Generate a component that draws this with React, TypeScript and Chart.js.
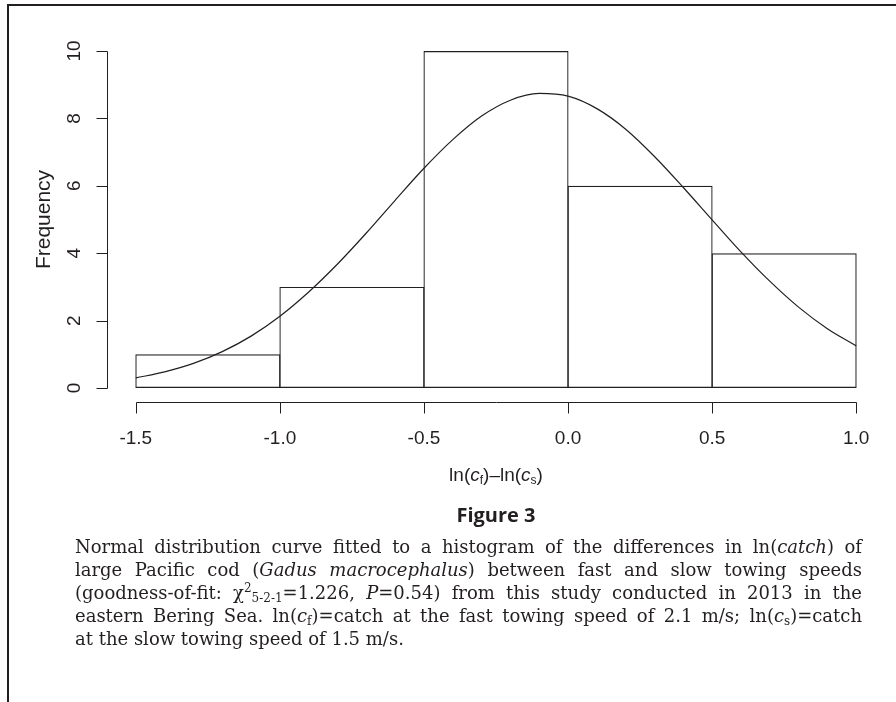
import React, { useEffect, useRef } from "react";
import { Chart, registerables } from "chart.js";

Chart.register(...registerables);

// Histogram bins (edges) and counts
const binEdges = [-1.5, -1.0, -0.5, 0.0, 0.5, 1.0];
const counts = [1, 3, 10, 6, 4];

// Fitted normal curve
const curveX = [-1.5, -1.4, -1.3, -1.2, -1.1, -1.0, -0.9, -0.8, -0.7, -0.6, -0.5, -0.4, -0.3, -0.2, -0.1, 0.0, 0.1, 0.2, 0.3, 0.4, 0.5, 0.6, 0.7, 0.8, 0.9, 1.0];
const curveY = [0.30, 0.48, 0.73, 1.08, 1.54, 2.13, 2.85, 3.68, 4.60, 5.57, 6.52, 7.37, 8.07, 8.54, 8.74, 8.66, 8.29, 7.68, 6.87, 5.95, 4.99, 4.04, 3.17, 2.40, 1.76, 1.25];

// Axis ticks
const xTicks = [-1.5, -1.0, -0.5, 0.0, 0.5, 1.0];
const xTickLabels = ["-1.5", "-1.0", "-0.5", "0.0", "0.5", "1.0"];
const yTicks = [0, 2, 4, 6, 8, 10];
const yTickLabels = ["0", "2", "4", "6", "8", "10"];

const INK = "#231f20";

const rAxesPlugin = {
  id: "rAxes",
  afterDraw(chart: any) {
    const { ctx, chartArea, scales } = chart;
    const xs = scales.x;
    const ys = scales.y;
    ctx.save();
    ctx.strokeStyle = INK;
    ctx.fillStyle = INK;
    ctx.lineWidth = 1;
    const tick = 11;
    // y axis
    const ax = Math.round(chartArea.left) + 0.5;
    const y0 = ys.getPixelForValue(yTicks[0]);
    const y1 = ys.getPixelForValue(yTicks[yTicks.length - 1]);
    ctx.beginPath();
    ctx.moveTo(ax, Math.round(y0) + 0.5);
    ctx.lineTo(ax, Math.round(y1) + 0.5);
    yTicks.forEach((v) => {
      const py = Math.round(ys.getPixelForValue(v)) + 0.5;
      ctx.moveTo(ax - tick, py);
      ctx.lineTo(ax, py);
    });
    ctx.stroke();
    ctx.font = '19px "Liberation Sans", Arial, sans-serif';
    ctx.textAlign = "center";
    ctx.textBaseline = "alphabetic";
    yTicks.forEach((v, i) => {
      const py = ys.getPixelForValue(v);
      ctx.save();
      ctx.translate(ax - 28, py);
      ctx.rotate(-Math.PI / 2);
      ctx.fillText(yTickLabels[i], 0, 0);
      ctx.restore();
    });
    // y title
    ctx.save();
    ctx.font = '21px "Liberation Sans", Arial, sans-serif';
    ctx.translate(ax - 58, (y0 + y1) / 2);
    ctx.rotate(-Math.PI / 2);
    ctx.fillText("Frequency", 0, 0);
    ctx.restore();

    // x axis
    const ay = Math.round(chartArea.bottom) + 0.5;
    const x0 = xs.getPixelForValue(xTicks[0]);
    const x1 = xs.getPixelForValue(xTicks[xTicks.length - 1]);
    ctx.beginPath();
    ctx.moveTo(Math.round(x0) + 0.5, ay);
    ctx.lineTo(Math.round(x1) + 0.5, ay);
    xTicks.forEach((v) => {
      const px = Math.round(xs.getPixelForValue(v)) + 0.5;
      ctx.moveTo(px, ay);
      ctx.lineTo(px, ay + tick);
    });
    ctx.stroke();
    ctx.font = '19px "Liberation Sans", Arial, sans-serif';
    ctx.textBaseline = "middle";
    xTicks.forEach((v, i) => {
      ctx.fillText(xTickLabels[i], xs.getPixelForValue(v), ay + 36);
    });
    ctx.restore();
  },
};

export default function App() {
  const ref = useRef<HTMLCanvasElement | null>(null);

  useEffect(() => {
    if (!ref.current) return;
    const centers = counts.map((_, i) => (binEdges[i] + binEdges[i + 1]) / 2);
    const chart = new Chart(ref.current, {
      type: "bar",
      data: {
        datasets: [
          {
            type: "bar",
            data: centers.map((c, i) => ({ x: c, y: counts[i] })),
            backgroundColor: "rgba(0,0,0,0)",
            borderColor: INK,
            borderWidth: 1.2,
            borderSkipped: false,
            barPercentage: 1.007,
            categoryPercentage: 1,
            inflateAmount: 0,
          } as any,
          {
            type: "line",
            data: curveX.map((x, i) => ({ x, y: curveY[i] })),
            borderColor: INK,
            borderWidth: 1.2,
            pointRadius: 0,
            fill: false,
            cubicInterpolationMode: "monotone",
          } as any,
        ],
      },
      options: {
        responsive: false,
        animation: false,
        devicePixelRatio: 1,
        layout: { padding: { left: 107, top: 37.5, right: 11, bottom: 702 - 401.5 } },
        plugins: { legend: { display: false }, tooltip: { enabled: false } },
        scales: {
          x: { type: "linear", min: -1.6, max: 1.1, offset: false, display: false },
          y: { type: "linear", min: -0.4, max: 10.4, display: false },
        },
      },
      plugins: [rAxesPlugin],
    });
    return () => chart.destroy();
  }, []);

  const serif = '"DejaVu Serif", "Liberation Serif", serif';
  const lineStyle: React.CSSProperties = {
    textAlign: "justify",
    textAlignLast: "justify",
    whiteSpace: "nowrap",
    height: 23,
    lineHeight: "23px",
  };
  const lastLine: React.CSSProperties = { ...lineStyle, textAlignLast: "left" };
  const subS: React.CSSProperties = { fontSize: 12, verticalAlign: "-3px", lineHeight: 0 };

  return (
    <div style={{ position: "absolute", left: 0, top: 0, width: 896, height: 702, background: "#fff", overflow: "hidden", color: INK }}>
      <canvas ref={ref} width={896} height={702} style={{ position: "absolute", left: 0, top: 0, width: 896, height: 702 }} />
      <div style={{ position: "absolute", left: 7, top: 4, width: 889, height: 2, background: INK }} />
      <div style={{ position: "absolute", left: 7, top: 4, width: 2, height: 698, background: INK }} />
      <div style={{ position: "absolute", left: 296, width: 400, top: 462, textAlign: "center", font: '19px "Liberation Sans", Arial, sans-serif', lineHeight: "26px" }}>
        ln(<i>c</i><sub style={{ fontSize: 12, verticalAlign: "-3px" }}>f</sub>)–ln(<i>c</i><sub style={{ fontSize: 12, verticalAlign: "-3px" }}>s</sub>)
      </div>
      <div style={{ position: "absolute", left: 296, width: 400, top: 502, textAlign: "center", font: 'bold 20px "Open Sans", sans-serif', lineHeight: "26px" }}>
        Figure 3
      </div>
      <div style={{ position: "absolute", left: 75, width: 787, top: 535, font: `18px ${serif}` }}>
        <div style={lineStyle}>Normal distribution curve fitted to a histogram of the differences in ln(<i>catch</i>) of</div>
        <div style={lineStyle}>large Pacific cod (<i>Gadus macrocephalus</i>) between fast and slow towing speeds</div>
        <div style={lineStyle}>
          (goodness-of-fit: χ<sup style={{ fontSize: 12, verticalAlign: "7px", lineHeight: 0 }}>2</sup>
          <sub style={subS}>5-2-1</sub>=1.226, <i>P</i>=0.54) from this study conducted in 2013 in the
        </div>
        <div style={lineStyle}>
          eastern Bering Sea. ln(<i>c</i><sub style={subS}>f</sub>)=catch at the fast towing speed of 2.1 m/s; ln(<i>c</i>
          <sub style={subS}>s</sub>)=catch
        </div>
        <div style={lastLine}>at the slow towing speed of 1.5 m/s.</div>
      </div>
    </div>
  );
}
